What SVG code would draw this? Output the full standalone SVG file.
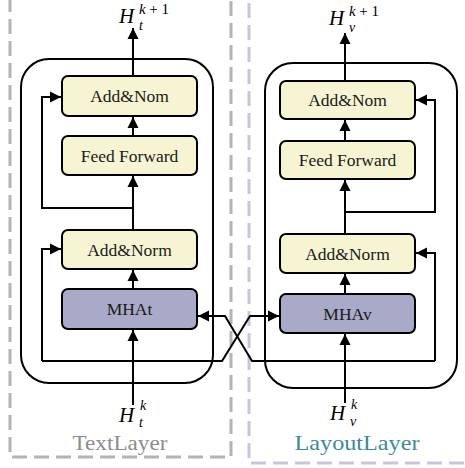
<svg xmlns="http://www.w3.org/2000/svg" width="465" height="468" viewBox="0 0 465 468">
  <defs>
    <marker id="arrow" markerUnits="userSpaceOnUse" markerWidth="12" markerHeight="12" refX="11" refY="6" orient="auto">
      <path d="M0,0.5 L11,6 L0,11.5 z" fill="#000"/>
    </marker>
    <style>
      .frame-t { fill: none; stroke: #b4b4b4; stroke-width: 3; stroke-dasharray: 15 7; }
      .frame-v { fill: none; stroke: #cbc3dd; stroke-width: 3; stroke-dasharray: 15 7; }
      .outer { fill: none; stroke: #000; stroke-width: 2; }
      .norm { fill: #f6f4d2; stroke: #000; stroke-width: 2; }
      .attn { fill: #a9a9c8; stroke: #000; stroke-width: 2; }
      .lbl { font-family: "Liberation Serif", "Times New Roman", serif; font-size: 17.5px; fill: #1a1a1a; text-anchor: middle; }
      .wire { fill: none; stroke: #000; stroke-width: 2; }
      .arr { marker-end: url(#arrow); }
      .math { font-family: "Liberation Serif", "Times New Roman", serif; fill: #000; }
      .it { font-style: italic; }
      .layer { font-family: "Liberation Serif", "Times New Roman", serif; font-size: 22px; text-anchor: middle; }
    </style>
  </defs>

  <!-- layer frames -->
  <g id="text-layer-frame">
    <rect class="frame-t" x="10" y="-20" width="221" height="477"/>
    <text class="layer" x="120" y="450" fill="#8c8c8c" textLength="95" lengthAdjust="spacingAndGlyphs">TextLayer</text>
  </g>
  <g id="layout-layer-frame">
    <rect class="frame-v" x="249" y="-20" width="240" height="483"/>
    <text class="layer" x="357" y="450" fill="#3d8a98" textLength="125" lengthAdjust="spacingAndGlyphs">LayoutLayer</text>
  </g>

  <!-- encoder blocks -->
  <g id="text-block">
    <rect class="outer" x="21" y="59" width="192" height="324" rx="28"/>
  </g>
  <g id="layout-block">
    <rect class="outer" x="265" y="63" width="192" height="325" rx="28"/>
  </g>

  <!-- connectors -->
  <g id="connectors">
    <!-- text branch, main path -->
    <path class="wire arr" d="M133,405 V330"/>
    <path class="wire arr" d="M133,289 V270"/>
    <path class="wire arr" d="M133,230 V176"/>
    <path class="wire arr" d="M133,136 V117"/>
    <path class="wire arr" d="M133,76 V28"/>
    <!-- text branch, residuals -->
    <path class="wire arr" d="M133,208 H42 V97 H61"/>
    <path class="wire arr" d="M42,361 V249 H61"/>
    <path class="wire arr" d="M42,361 H222 L250,316 H279"/>

    <!-- layout branch, main path -->
    <path class="wire arr" d="M345,403 V334"/>
    <path class="wire arr" d="M345,294 V274"/>
    <path class="wire arr" d="M345,234 V180"/>
    <path class="wire arr" d="M345,141 V120"/>
    <path class="wire arr" d="M345,81 V33"/>
    <!-- layout branch, residuals -->
    <path class="wire arr" d="M345,212 H435 V100 H416"/>
    <path class="wire arr" d="M435,361 V253 H416"/>
    <path class="wire arr" d="M435,361 H252 L225,316 H198"/>
  </g>

  <!-- text branch nodes -->
  <g id="t-addnorm-top">
    <rect class="norm" x="62" y="76" width="135" height="40" rx="6"/>
    <text class="lbl" x="129.5" y="102">Add&amp;Nom</text>
  </g>
  <g id="t-ffn">
    <rect class="norm" x="62" y="136" width="135" height="39" rx="6"/>
    <text class="lbl" x="129.5" y="161.5">Feed Forward</text>
  </g>
  <g id="t-addnorm">
    <rect class="norm" x="62" y="230" width="135" height="39" rx="6"/>
    <text class="lbl" x="129.5" y="255.5">Add&amp;Norm</text>
  </g>
  <g id="t-mha">
    <rect class="attn" x="62" y="289" width="135" height="40" rx="6"/>
    <text class="lbl" x="129.5" y="315">MHAt</text>
  </g>

  <!-- layout branch nodes -->
  <g id="v-addnorm-top">
    <rect class="norm" x="280" y="81" width="135" height="38" rx="6"/>
    <text class="lbl" x="347.5" y="106">Add&amp;Nom</text>
  </g>
  <g id="v-ffn">
    <rect class="norm" x="280" y="141" width="135" height="38" rx="6"/>
    <text class="lbl" x="347.5" y="166">Feed Forward</text>
  </g>
  <g id="v-addnorm">
    <rect class="norm" x="280" y="234" width="135" height="39" rx="6"/>
    <text class="lbl" x="347.5" y="259.5">Add&amp;Norm</text>
  </g>
  <g id="v-mha">
    <rect class="attn" x="280" y="294" width="135" height="39" rx="6"/>
    <text class="lbl" x="347.5" y="319.5">MHAv</text>
  </g>

  <!-- hidden state labels -->
  <g id="h-t-out">
    <text class="math it" x="119" y="23" font-size="21">H</text>
    <text class="math it" x="139" y="30" font-size="14">t</text>
    <text class="math" x="139" y="14" font-size="15" textLength="30" lengthAdjust="spacing"><tspan class="it">k</tspan>+1</text>
  </g>
  <g id="h-v-out">
    <text class="math it" x="329" y="25" font-size="21">H</text>
    <text class="math it" x="349" y="32" font-size="14">v</text>
    <text class="math" x="349" y="16" font-size="15" textLength="30" lengthAdjust="spacing"><tspan class="it">k</tspan>+1</text>
  </g>
  <g id="h-t-in">
    <text class="math it" x="119" y="422" font-size="21">H</text>
    <text class="math it" x="139" y="427" font-size="14">t</text>
    <text class="math it" x="140" y="410" font-size="14">k</text>
  </g>
  <g id="h-v-in">
    <text class="math it" x="330" y="420" font-size="21">H</text>
    <text class="math it" x="350" y="426" font-size="14">v</text>
    <text class="math it" x="351" y="409" font-size="14">k</text>
  </g>
</svg>
